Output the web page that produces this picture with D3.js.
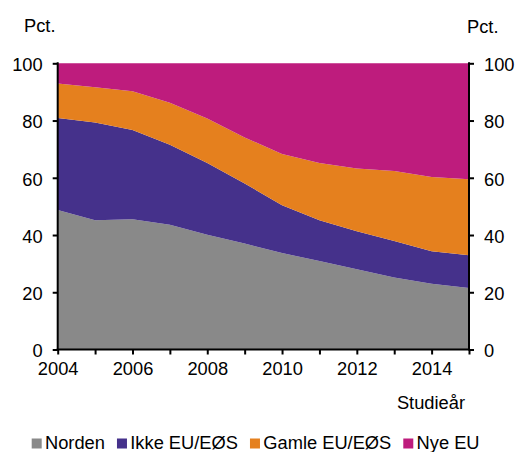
<!DOCTYPE html>
<html>
<head>
<meta charset="utf-8">
<script src="https://cdn.jsdelivr.net/npm/d3@7"></script>
<style>
  body { margin: 0; background: #fff; }
  svg { font-family: "Liberation Sans", Arial, sans-serif; }
</style>
</head>
<body>
<div id="chart"></div>
<script>
// Data (percent, stacked to 100)
const years = [2004, 2005, 2006, 2007, 2008, 2009, 2010, 2011, 2012, 2013, 2014, 2015];
const norden = [48.7, 45.2, 45.5, 43.6, 40.1, 37.0, 33.7, 30.9, 28.0, 25.2, 23.0, 21.5];
const ikkeEU = [32.2, 34.1, 31.2, 27.9, 25.1, 21.0, 16.7, 14.3, 13.3, 12.7, 11.3, 11.4];
const gamleEU = [12.0, 12.3, 13.5, 14.7, 15.5, 16.1, 17.9, 20.0, 21.9, 24.5, 26.0, 26.6];
const nyeEU = [7.1, 8.4, 9.8, 13.8, 19.3, 25.9, 31.7, 34.8, 36.8, 37.6, 39.7, 40.5];

const seriesNames = ["Norden", "Ikke EU/EØS", "Gamle EU/EØS", "Nye EU"];
const colors = ["#898989", "#45318b", "#e5801e", "#be1c7d"];
const yTicks = [0, 20, 40, 60, 80, 100];
const xTickLabels = [2004, 2006, 2008, 2010, 2012, 2014];

const width = 517, height = 452;
const svg = d3.select("#chart").append("svg")
    .attr("width", width)
    .attr("height", height);

// build rows for the stack
const rows = years.map((y, i) => ({
    year: y,
    "Norden": norden[i],
    "Ikke EU/EØS": ikkeEU[i],
    "Gamle EU/EØS": gamleEU[i],
    "Nye EU": nyeEU[i]
}));

const x = d3.scaleLinear().domain([2004, 2015]).range([57.7, 469]);
const y = d3.scaleLinear().domain([0, 100]).range([349.5, 63.3]);

const stacked = d3.stack().keys(seriesNames)(rows);

const area = d3.area()
    .x(d => x(d.data.year))
    .y0(d => y(d[0]))
    .y1(d => y(d[1]));

svg.append("g")
    .selectAll("path")
    .data(stacked)
    .join("path")
    .attr("fill", (d, i) => colors[i])
    .attr("d", area);

const fontSize = 18.3;

// axes
const leftAxis = d3.axisLeft(y).tickValues(yTicks).tickSize(5).tickPadding(10);
const rightAxis = d3.axisRight(y).tickValues(yTicks).tickSize(5).tickPadding(10);
const bottomAxis = d3.axisBottom(x).tickValues(years).tickSize(5).tickPadding(8)
    .tickFormat(d => xTickLabels.includes(d) ? d : "");

function styleAxis(g) {
    g.select(".domain").remove();
    g.selectAll(".tick line").attr("stroke", "#000").attr("stroke-width", 2);
    g.selectAll(".tick text").attr("fill", "#000")
        .style("font-size", fontSize + "px")
        .style("font-family", "Liberation Sans, Arial, sans-serif");
}

svg.append("g").attr("transform", `translate(${x(2004)},0)`).call(leftAxis).call(styleAxis)
    .selectAll(".tick text").attr("dy", "0.4em");
svg.append("g").attr("transform", `translate(${x(2015)},0)`).call(rightAxis).call(styleAxis)
    .selectAll(".tick text").attr("dy", "0.4em");
svg.append("g").attr("transform", `translate(0,${y(0)})`).call(bottomAxis).call(styleAxis);

// axis lines drawn on top
svg.append("line").attr("x1", x(2004)).attr("x2", x(2004)).attr("y1", y(100) - 1).attr("y2", y(0) + 1)
    .attr("stroke", "#000").attr("stroke-width", 2);
svg.append("line").attr("x1", x(2015)).attr("x2", x(2015)).attr("y1", y(100) - 1).attr("y2", y(0) + 1)
    .attr("stroke", "#000").attr("stroke-width", 2);
svg.append("line").attr("x1", x(2004) - 1).attr("x2", x(2015) + 1).attr("y1", y(0)).attr("y2", y(0))
    .attr("stroke", "#000").attr("stroke-width", 2);

// titles
svg.append("text").attr("x", 24).attr("y", 32).text("Pct.")
    .style("font-size", fontSize + "px");
svg.append("text").attr("x", 467).attr("y", 33).text("Pct.")
    .style("font-size", fontSize + "px");
svg.append("text").attr("x", 465).attr("y", 409).attr("text-anchor", "end").text("Studieår")
    .style("font-size", fontSize + "px");

// legend
const legend = svg.append("g").attr("transform", "translate(31.7,0)");
let lx = 0;
seriesNames.forEach((name, i) => {
    const item = legend.append("g").attr("transform", `translate(${lx},0)`);
    item.append("rect").attr("x", 0).attr("y", 438.5).attr("width", 10).attr("height", 10)
        .attr("fill", colors[i]);
    const t = item.append("text").attr("x", 13.3).attr("y", 448.5).text(name)
        .style("font-size", fontSize + "px");
    lx += 13.3 + t.node().getComputedTextLength() + 12;
});
</script>
</body>
</html>
